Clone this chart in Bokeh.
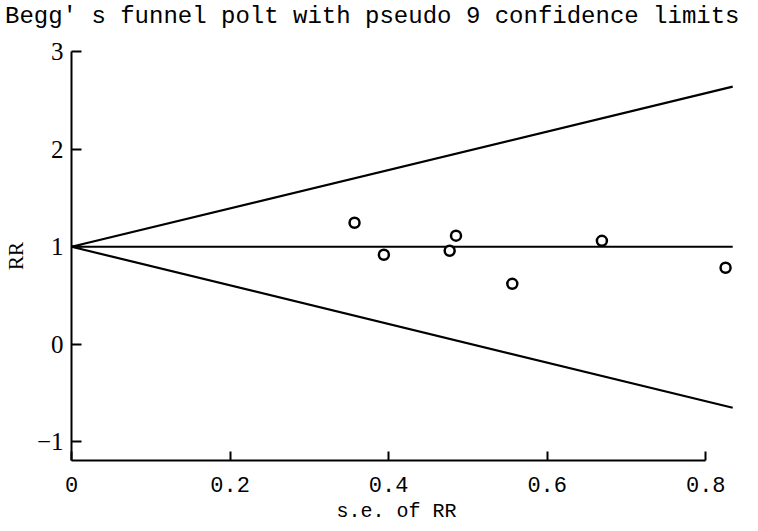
from bokeh.plotting import figure
from bokeh.embed import file_html
from bokeh.resources import INLINE
from bokeh.models import Range1d, FixedTicker, Div
from bokeh.layouts import column

# Data
se_rr = [0.357, 0.394, 0.477, 0.485, 0.556, 0.669, 0.825]
rr = [1.246, 0.918, 0.959, 1.113, 0.62, 1.06, 0.785]

limit_se = [0.0, 0.834]
upper_limit = [1.0, 2.64]
lower_limit = [1.0, -0.65]
pooled = [1.0, 1.0]

x_ticks = [0, 0.2, 0.4, 0.6, 0.8]
x_tick_labels = {0: "0", 0.2: "0.2", 0.4: "0.4", 0.6: "0.6", 0.8: "0.8"}
y_ticks = [-1, 0, 1, 2, 3]

title_text = "Begg\u2032 s funnel polt with pseudo 9 confidence limits"

title_div = Div(text=title_text, width=742, height=26,
                styles={"font-family": "Liberation Mono", "font-size": "24px",
                        "color": "black", "white-space": "nowrap",
                        "line-height": "24px"})

p = figure(width=742, height=489, output_backend="svg", toolbar_location=None,
           x_range=Range1d(0, 0.835), y_range=Range1d(-1.19, 3.0),
           min_border_left=65, min_border_right=9, min_border_top=15,
           min_border_bottom=65)

p.grid.visible = False
p.outline_line_color = None
p.background_fill_color = "white"
p.border_fill_color = "white"

lw = 2.2
p.line(limit_se, upper_limit, line_color="black", line_width=lw)
p.line(limit_se, lower_limit, line_color="black", line_width=lw)
p.line(limit_se, pooled, line_color="black", line_width=lw)
p.scatter(se_rr, rr, marker="circle", size=10, fill_color="white",
          line_color="black", line_width=2.5)

xa = p.xaxis[0]
xa.ticker = FixedTicker(ticks=x_ticks)
xa.major_label_overrides = x_tick_labels
xa.bounds = (0, 0.8)
xa.axis_label = "s.e. of  RR"
xa.axis_label_text_font = "Liberation Mono"
xa.axis_label_text_font_size = "20px"
xa.axis_label_text_font_style = "normal"
xa.axis_label_text_color = "black"
xa.axis_label_standoff = 5
xa.major_label_text_font = "Liberation Mono"
xa.major_label_text_font_size = "22px"
xa.major_label_standoff = 16
xa.major_tick_in = 9
xa.major_tick_out = 0
xa.minor_tick_line_color = None
xa.axis_line_width = 2
xa.major_tick_line_width = 2
xa.axis_line_color = "black"
xa.major_tick_line_color = "black"
xa.major_label_text_color = "black"

ya = p.yaxis[0]
ya.ticker = FixedTicker(ticks=y_ticks)
ya.major_label_overrides = {-1: "\u22121"}
ya.axis_label = "RR"
ya.axis_label_text_font = "Liberation Serif"
ya.axis_label_text_font_size = "21px"
ya.axis_label_text_font_style = "normal"
ya.axis_label_text_color = "black"
ya.axis_label_standoff = 6
ya.major_label_text_font = "Liberation Serif"
ya.major_label_text_font_size = "25px"
ya.major_label_standoff = 8
ya.major_tick_in = 10
ya.major_tick_out = 0
ya.minor_tick_line_color = None
ya.axis_line_width = 2
ya.major_tick_line_width = 2
ya.axis_line_color = "black"
ya.major_tick_line_color = "black"
ya.major_label_text_color = "black"
ya.major_label_orientation = "horizontal"

layout = column(title_div, p, spacing=0)
open("out.html", "w").write(file_html(layout, INLINE))
